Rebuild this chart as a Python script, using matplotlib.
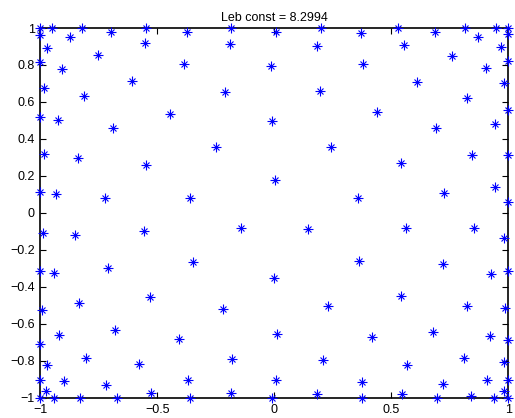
import matplotlib
matplotlib.use("Agg")
import matplotlib.pyplot as plt

plt.rcParams['font.family'] = ['Liberation Sans', 'DejaVu Sans']

title_text = "Leb const = 8.2994"

# Interpolation nodes on the square [-1, 1] x [-1, 1] (degree 15, 136 points)
xs = [
    -1.0, -0.949, -0.824, -0.699, -0.547, -1.0, -0.873, -0.971, -0.553, -0.753,
    -1.0, -0.907, -0.608, -0.985, -0.813, -1.0, -0.927, -0.691, -0.373, -0.186,
    -0.190, -0.385, -0.013, -0.213, -0.447, -0.010, -0.248, 0.005, 0.199, 0.371,
    0.181, 0.379, 0.194, 0.440, 0.243, 0.526, 0.685, 0.813, 0.947, 0.869,
    0.553, 0.970, 0.758, 0.903, 0.610, 0.979, 0.822, 0.689, 0.941, 1.0,
    1.0, 1.0, 1.0, 0.540, 0.846, 1.0, 0.723, 0.944, 1.0, 0.564,
    0.853, 0.979, 0.721, 0.926, 1.0, -0.985, -0.839, -0.550, -1.0, -0.934,
    -0.726, -0.988, -0.851, -0.557, -1.0, -0.942, -0.713, -0.361, -0.143, -0.348,
    0.002, 0.358, 0.143, 0.361, 0.0, 0.539, 0.823, 0.984, 0.677, 0.923,
    1.0, 0.809, 0.979, 0.567, 0.907, 1.0, 0.721, 0.979, 0.546, 0.694,
    0.840, 0.938, 1.0, -0.533, -0.992, -0.834, -0.681, -0.921, -1.0, -0.807,
    -0.971, -0.580, -1.0, -0.898, -0.722, -0.978, -0.528, -1.0, -0.941, -0.830,
    -0.672, -0.221, -0.409, -0.183, -0.369, -0.187, -0.363, -0.012, 0.228, 0.012,
    0.415, 0.207, 0.008, 0.372, 0.183, 0.372,
]
ys = [
    1.0, 1.0, 1.0, 0.980, 1.0, 0.962, 0.951, 0.891, 0.917, 0.852,
    0.817, 0.779, 0.712, 0.676, 0.630, 0.516, 0.504, 0.459, 0.980, 1.0,
    0.911, 0.807, 0.792, 0.656, 0.535, 0.497, 0.355, 0.980, 1.0, 0.975,
    0.904, 0.803, 0.658, 0.543, 0.357, 1.0, 0.980, 1.0, 1.0, 0.953,
    0.908, 0.895, 0.848, 0.786, 0.710, 0.701, 0.622, 0.459, 0.482, 1.0,
    0.966, 0.821, 0.558, 0.268, 0.314, 0.314, 0.109, 0.140, 0.056, -0.085,
    -0.083, -0.134, -0.279, -0.329, -0.316, 0.319, 0.299, 0.258, 0.111, 0.103,
    0.082, -0.109, -0.123, -0.099, -0.317, -0.326, -0.299, 0.078, -0.085, -0.266,
    0.178, 0.080, -0.090, -0.259, -0.351, -0.449, -0.502, -0.514, -0.643, -0.665,
    -0.686, -0.788, -0.806, -0.826, -0.904, -0.904, -0.929, -0.967, -0.982, -1.0,
    -0.992, -1.0, -1.0, -0.457, -0.529, -0.489, -0.632, -0.661, -0.710, -0.788,
    -0.824, -0.821, -0.905, -0.909, -0.933, -0.967, -0.976, -1.0, -1.0, -1.0,
    -1.0, -0.520, -0.683, -0.791, -0.904, -0.974, -1.0, -1.0, -0.507, -0.656,
    -0.674, -0.797, -0.904, -0.915, -0.982, -1.0,
]

xticks = [-1, -0.5, 0, 0.5, 1]
xtick_labels = ["\u22121", "\u22120.5", "0", "0.5", "1"]
yticks = [-1, -0.8, -0.6, -0.4, -0.2, 0, 0.2, 0.4, 0.6, 0.8, 1]
ytick_labels = ["\u22121", "\u22120.8", "\u22120.6", "\u22120.4", "\u22120.2", "0",
                "0.2", "0.4", "0.6", "0.8", "1"]

fig = plt.figure(figsize=(5.15, 4.18), dpi=100)
ax = fig.add_axes([0.0786, 0.049, 0.9087, 0.884])

# asterisk markers: a plus with a smaller cross on top
ax.plot(xs, ys, linestyle='none', marker='+', markersize=7, markeredgewidth=0.8,
        color='#0000ff', clip_on=False, zorder=3)
ax.plot(xs, ys, linestyle='none', marker='x', markersize=5, markeredgewidth=0.8,
        color='#0000ff', clip_on=False, zorder=3)

ax.set_xlim(-1, 1)
ax.set_ylim(-1, 1)
ax.set_xticks(xticks)
ax.set_xticklabels(xtick_labels)
ax.set_yticks(yticks)
ax.set_yticklabels(ytick_labels)
ax.tick_params(direction='in', length=4, width=0.8, labelsize=9,
               top=True, right=True)
ax.tick_params(axis='x', pad=5)
ax.tick_params(axis='y', pad=4)
for sp in ax.spines.values():
    sp.set_linewidth(1.2)
    sp.set_color('black')
ax.set_title(title_text, fontsize=9, pad=5)

fig.savefig("out.png", dpi=100)
